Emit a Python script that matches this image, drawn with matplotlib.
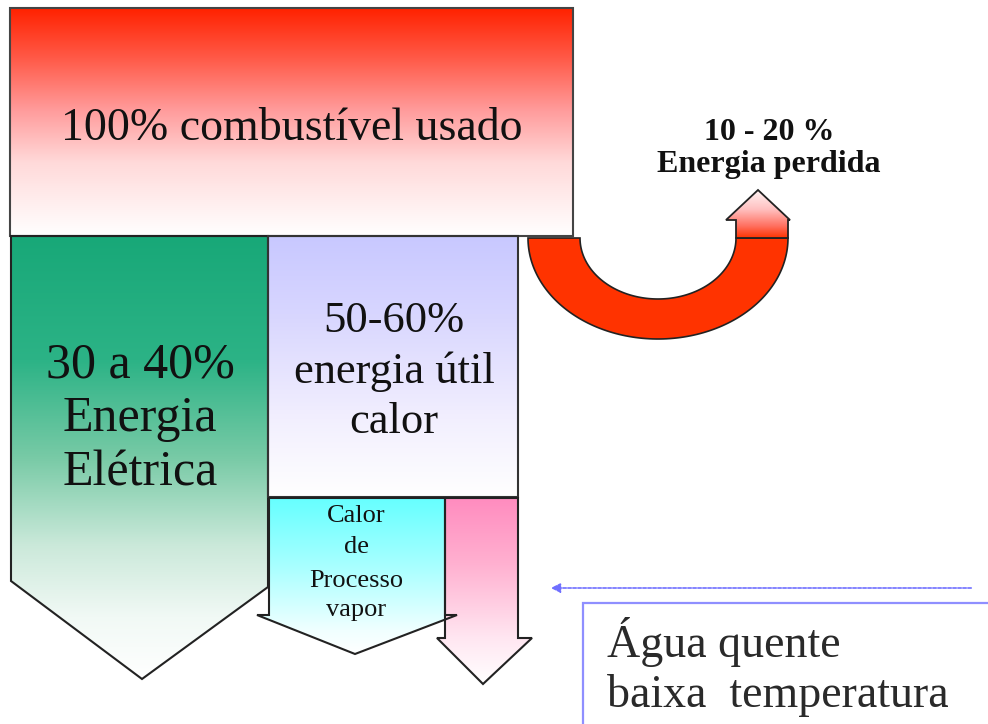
import numpy as np
import matplotlib
matplotlib.use("Agg")
import matplotlib.pyplot as plt
from matplotlib.patches import Polygon, Rectangle
from matplotlib.colors import LinearSegmentedColormap

# Labels of the energy balance of a cogeneration plant
fuel_label = ["100% combustível usado"]
electric_lines = ["30 a 40%", "Energia", "Elétrica"]
heat_lines = ["50-60%", "energia útil", "calor"]
process_lines = ["Calor", "de", "Processo", "vapor"]
loss_lines = ["10 - 20 %", "Energia perdida"]
hot_water_lines = ["Água quente", "baixa  temperatura"]

SERIF = ["Liberation Serif", "DejaVu Serif"]

fig = plt.figure(figsize=(9.88, 7.24), dpi=100)
ax = fig.add_axes([0, 0, 1, 1])
ax.set_xlim(0, 988)
ax.set_ylim(724, 0)
ax.axis("off")


def gradient_shape(xy, stops, edge="#222222", lw=1.5, z=2):
    """Fill a polygon with a vertical colour gradient (top -> bottom)."""
    xy = np.asarray(xy, float)
    x0, x1 = xy[:, 0].min(), xy[:, 0].max()
    y0, y1 = xy[:, 1].min(), xy[:, 1].max()
    cmap = LinearSegmentedColormap.from_list("g", stops)
    patch = Polygon(xy, closed=True, facecolor="none", edgecolor=edge,
                    lw=lw, zorder=z + 0.5, joinstyle="miter")
    ax.add_patch(patch)
    grad = np.linspace(0, 1, 512).reshape(-1, 1)
    im = ax.imshow(grad, cmap=cmap, aspect="auto", origin="upper",
                   extent=(x0, x1, y1, y0), zorder=z, interpolation="bilinear")
    clip = Polygon(xy, closed=True, transform=ax.transData)
    im.set_clip_path(clip)
    return patch


# Fuel input block
gradient_shape([(10, 8), (573, 8), (573, 236), (10, 236)],
               [(0, "#ff2200"), (0.22, "#ff5a48"), (0.45, "#ff9c9c"),
                (0.68, "#ffdada"), (1.0, "#ffffff")], edge="#444444")

# Electric energy arrow
gradient_shape([(11, 236), (268, 236), (268, 587), (142, 679), (11, 581)],
               [(0, "#18a878"), (0.28, "#2cb386"), (0.5, "#78caa6"),
                (0.7, "#cbe9da"), (0.86, "#f1f9f5"), (1.0, "#ffffff")])

# Useful heat block
gradient_shape([(268, 236), (518, 236), (518, 497), (268, 497)],
               [(0, "#c8c8ff"), (0.3, "#d8d6ff"), (0.7, "#f2effe"),
                (1.0, "#ffffff")], edge="#333333")

# Process steam arrow
gradient_shape([(269, 498), (445, 498), (445, 615), (457, 615), (355, 654),
                (257, 615), (269, 615)],
               [(0, "#66ffff"), (0.45, "#aaffff"), (0.85, "#f0ffff"),
                (1.0, "#ffffff")])

# Low temperature hot water arrow
gradient_shape([(445, 498), (518, 498), (518, 638), (532, 638), (483, 684),
                (437, 638), (445, 638)],
               [(0, "#ff8cbf"), (0.35, "#ffb0d0"), (0.75, "#ffe6f1"),
                (1.0, "#ffffff")])

# Lost energy: half elliptical ring with an upward arrow head
cx, cy = 658, 238
t = np.linspace(np.pi, 0, 120)
outer = np.column_stack([cx + 130 * np.cos(t), cy + 101 * np.sin(t)])
inner = np.column_stack([cx + 78 * np.cos(t[::-1]), cy + 61 * np.sin(t[::-1])])
ring = Polygon(np.vstack([outer, inner]), closed=True, facecolor="#ff3300",
               edgecolor="#222222", lw=1.2, zorder=3)
ax.add_patch(ring)
gradient_shape([(736, 238), (736, 220), (726, 220), (758, 190), (790, 220),
                (788, 220), (788, 238)],
               [(0, "#fff4f4"), (0.4, "#ffc0c0"), (0.75, "#ff7060"),
                (1.0, "#ff3300")], lw=1.3, z=3)

# Text inside the blocks
ax.text(292, 140, fuel_label[0], family=SERIF, fontsize=33, ha="center",
        va="baseline", color="#111111", zorder=6)
for s, yb in zip(electric_lines, [377, 431, 485]):
    ax.text(140, yb, s, family=SERIF, fontsize=36, ha="center",
            va="baseline", color="#111111", zorder=6)
for s, yb in zip(heat_lines, [332, 383, 433]):
    ax.text(394, yb, s, family=SERIF, fontsize=32, ha="center",
            va="baseline", color="#111111", zorder=6)
for s, yb in zip(process_lines, [522, 553, 587, 616]):
    ax.text(356, yb, s, family=SERIF, fontsize=19, ha="center",
            va="baseline", color="#111111", zorder=6)
for s, yb in zip(loss_lines, [140, 172]):
    ax.text(769, yb, s, family=SERIF, fontsize=23, fontweight="bold",
            ha="center", va="baseline", color="#111111", zorder=6)

# Hot water callout with pointer arrow
ax.add_patch(Rectangle((583, 603), 420, 130, facecolor="white",
                       edgecolor="#8f8fff", lw=1.6, zorder=4))
ax.annotate("", xy=(548, 588), xytext=(974, 588),
            arrowprops=dict(arrowstyle="-|>", color="#6f6fff", lw=1.2,
                            linestyle=(0, (2, 1)), mutation_scale=14),
            zorder=5)
for s, yb in zip(hot_water_lines, [657, 707]):
    ax.text(607, yb, s, family=SERIF, fontsize=33, ha="left",
            va="baseline", color="#2a2a2a", zorder=6)

fig.savefig("out.png", dpi=100)
